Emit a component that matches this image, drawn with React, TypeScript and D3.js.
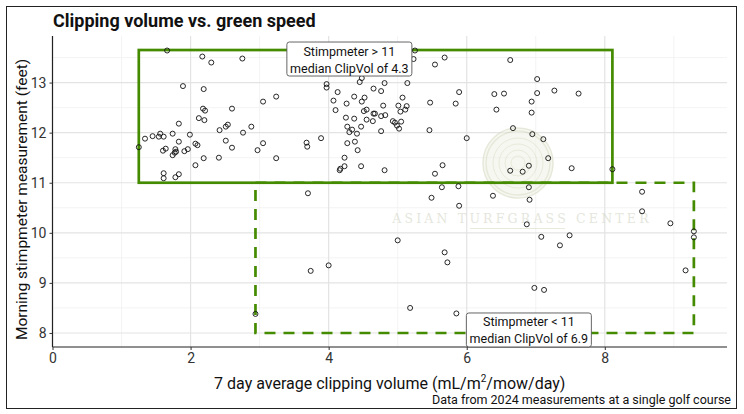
import { useEffect, useRef } from 'react'
import * as d3 from 'd3'

// Stimpmeter > 11 group (x = clipping volume, y = stimpmeter feet)
const upperX = [1.25, 1.34, 1.45, 1.54, 1.56, 1.61, 1.66, 1.60, 1.64, 1.74, 1.74, 1.77, 1.78, 1.79, 1.61, 1.61, 1.78, 1.83, 1.83, 1.83,
  1.89, 1.91, 1.96, 1.99, 2.07, 2.12, 2.07, 2.10, 2.17, 2.19, 2.18, 2.21, 2.20, 2.19, 2.30, 2.42, 2.41, 2.51, 2.54, 2.51,
  2.60, 2.60, 2.75, 2.76, 2.88, 2.97, 3.05, 3.05, 3.24, 3.24, 3.68, 3.69, 3.89, 3.97, 3.97, 5.25, 5.23, 5.68, 5.54, 4.13,
  4.07, 4.26, 4.37, 4.48, 4.52, 4.45, 4.48, 4.65, 4.76, 4.81, 4.10, 4.25, 4.37, 4.51, 4.55, 4.55, 4.65, 4.67, 4.64, 4.76,
  4.82, 4.79, 5.01, 5.07, 5.14, 5.04, 5.11, 5.13, 4.93, 4.96, 4.99, 5.02, 5.05, 4.27, 4.34, 4.30, 4.41, 4.47, 4.76, 4.27,
  4.38, 4.42, 4.23, 4.23, 4.17, 4.47, 4.81, 4.16, 5.47, 5.84, 5.89, 5.46, 6.00, 5.65, 5.54, 6.40, 6.43, 6.94, 6.67, 6.95,
  7.11, 7.18, 6.90, 6.63, 6.81, 7.52, 8.11, 6.63, 7.02, 6.54, 7.02, 7.27, 7.62, 6.94]
const upperY = [11.71, 11.88, 11.93, 11.92, 11.98, 11.92, 13.64, 11.64, 11.68, 11.98, 11.55, 11.60, 11.67, 11.62, 11.19, 11.09, 11.11, 11.17, 12.18, 11.82,
  12.93, 11.63, 11.67, 11.96, 11.35, 12.29, 11.78, 11.75, 13.52, 12.87, 12.48, 12.44, 12.25, 11.49, 13.40, 12.05, 11.50, 12.12, 12.16, 11.84,
  12.48, 11.70, 13.48, 12.00, 12.12, 11.65, 12.62, 11.79, 12.72, 11.49, 11.80, 11.72, 11.89, 12.97, 12.90, 13.64, 13.47, 13.50, 13.36, 12.81,
  12.64, 12.58, 12.72, 12.62, 12.70, 13.01, 13.09, 12.88, 12.83, 12.99, 12.45, 12.30, 12.28, 12.43, 12.46, 12.26, 12.38, 12.38, 12.23, 12.33,
  12.35, 12.54, 12.54, 12.70, 12.99, 12.42, 12.46, 12.53, 12.23, 12.20, 12.14, 12.08, 12.22, 12.12, 12.06, 12.01, 11.98, 12.12, 12.03, 11.79,
  11.82, 11.65, 11.50, 11.33, 11.28, 11.33, 11.25, 11.25, 12.60, 12.58, 12.81, 12.05, 11.89, 11.35, 11.18, 12.77, 12.46, 12.40, 12.09, 11.97,
  11.87, 11.49, 11.34, 11.24, 11.22, 11.29, 11.27, 13.45, 13.07, 12.78, 12.79, 12.84, 12.78, 12.62]

// Stimpmeter < 11 group
const lowerX = [3.70, 5.64, 5.88, 5.49, 6.90, 5.89, 6.38, 6.91, 8.54, 8.54, 6.87, 7.08, 7.49, 8.95, 9.29, 9.29, 9.17, 5.00, 7.35, 5.68,
  5.72, 6.98, 7.12, 5.18, 5.85, 3.74, 4.00, 2.94]
const lowerY = [10.79, 10.91, 10.93, 10.70, 10.91, 10.54, 10.74, 10.66, 10.82, 10.43, 10.17, 9.92, 9.95, 10.19, 10.03, 9.91, 9.25, 9.85, 9.75, 9.61,
  9.41, 8.90, 8.86, 8.50, 8.39, 9.24, 9.35, 8.38]

// group boxes: [xmin, xmax, ymin, ymax]
const upperBox = [1.25, 8.11, 11, 13.65]
const lowerBox = [2.94, 9.29, 8.0, 11]
const medians = [4.3, 6.9]
const labelLines = [['Stimpmeter > 11', 'median ClipVol of 4.3'], ['Stimpmeter < 11', 'median ClipVol of 6.9']]

const xTicks = [0, 2, 4, 6, 8]
const xMinor = [1, 3, 5, 7, 9]
const yTicks = [8, 9, 10, 11, 12, 13]
const yMinor = [8.5, 9.5, 10.5, 11.5, 12.5, 13.5]

const green = '#458B00'
const font = 'Roboto, "Noto Sans", sans-serif'

export default function App() {
  const ref = useRef<SVGSVGElement>(null)

  const drawChart = () => {
    const svg = d3.select(ref.current)
    svg.selectAll('*').remove()

    const left = 52.5, right = 727, top = 36, bottom = 347

    const xScale = d3.scaleLinear().domain([0, 9.77]).range([left, right])
    const yScale = d3.scaleLinear().domain([7.72, 13.93]).range([bottom, top])

    svg.append('rect').attr('width', 744).attr('height', 414).attr('fill', 'white')
    svg.append('rect')
      .attr('x', 6.5).attr('y', 6.5).attr('width', 730).attr('height', 402)
      .attr('fill', 'none').attr('stroke', '#222').attr('stroke-width', 1)

    // grid
    const grid = svg.append('g')
    grid.selectAll('.gx-minor').data(xMinor).join('line')
      .attr('x1', d => xScale(d)).attr('x2', d => xScale(d)).attr('y1', top).attr('y2', bottom)
      .attr('stroke', '#f0f0f0').attr('stroke-width', 0.8)
    grid.selectAll('.gy-minor').data(yMinor).join('line')
      .attr('y1', d => yScale(d)).attr('y2', d => yScale(d)).attr('x1', left).attr('x2', right)
      .attr('stroke', '#f0f0f0').attr('stroke-width', 0.8)
    grid.selectAll('.gx').data(xTicks).join('line')
      .attr('x1', d => xScale(d)).attr('x2', d => xScale(d)).attr('y1', top).attr('y2', bottom)
      .attr('stroke', '#e3e3e3').attr('stroke-width', 1.2)
    grid.selectAll('.gy').data(yTicks).join('line')
      .attr('y1', d => yScale(d)).attr('y2', d => yScale(d)).attr('x1', left).attr('x2', right)
      .attr('stroke', '#e3e3e3').attr('stroke-width', 1.2)

    // watermark
    const wm = svg.append('g').attr('opacity', 0.55)
    const cx = 518, cy = 163
    ;[35, 32, 25, 19, 13, 7].forEach((r, i) => {
      wm.append('circle').attr('cx', cx).attr('cy', cy).attr('r', r)
        .attr('fill', i === 0 ? '#f1f2e6' : 'none')
        .attr('stroke', '#d3d8bd').attr('stroke-width', i < 2 ? 1.5 : 1)
    })
    wm.append('text')
      .attr('x', 522).attr('y', 223)
      .attr('text-anchor', 'middle')
      .attr('font-family', '"DejaVu Serif", "Liberation Serif", serif')
      .attr('font-size', 12.5).attr('letter-spacing', 3.2)
      .attr('fill', '#cfd3c2')
      .text('ASIAN TURFGRASS CENTER')
    wm.append('line')
      .attr('x1', 470).attr('x2', 565).attr('y1', 228.5).attr('y2', 228.5)
      .attr('stroke', '#d6dcc0').attr('stroke-width', 1.2)

    // group rectangles
    svg.append('rect')
      .attr('x', xScale(lowerBox[0])).attr('y', yScale(lowerBox[3]))
      .attr('width', xScale(lowerBox[1]) - xScale(lowerBox[0]))
      .attr('height', yScale(lowerBox[2]) - yScale(lowerBox[3]))
      .attr('fill', 'none').attr('stroke', green).attr('stroke-width', 2.7)
      .attr('stroke-dasharray', '11,8')
    svg.append('rect')
      .attr('x', xScale(upperBox[0])).attr('y', yScale(upperBox[3]))
      .attr('width', xScale(upperBox[1]) - xScale(upperBox[0]))
      .attr('height', yScale(upperBox[2]) - yScale(upperBox[3]))
      .attr('fill', 'none').attr('stroke', green).attr('stroke-width', 2.7)

    // points
    const pts = upperX.map((x, i) => [x, upperY[i]]).concat(lowerX.map((x, i) => [x, lowerY[i]]))
    svg.append('g').selectAll('circle').data(pts).join('circle')
      .attr('cx', d => xScale(d[0])).attr('cy', d => yScale(d[1]))
      .attr('r', 2.5).attr('fill', 'none').attr('stroke', '#111').attr('stroke-width', 0.9)

    // axes
    const xAxis = d3.axisBottom(xScale).tickValues(xTicks).tickSize(3).tickPadding(3).tickFormat(d3.format('d'))
    const gx = svg.append('g').attr('transform', `translate(0, ${bottom})`).call(xAxis)
    gx.select('.domain').attr('stroke', '#222').attr('stroke-width', 1.2).attr('d', `M${left},0H${right}`)
    gx.selectAll('.tick line').attr('stroke', '#333')
    gx.selectAll('text').attr('font-family', font).attr('font-size', 14).attr('fill', '#333')

    const yAxis = d3.axisLeft(yScale).tickValues(yTicks).tickSize(3).tickPadding(3).tickFormat(d3.format('d'))
    const gy = svg.append('g').attr('transform', `translate(${left}, 0)`).call(yAxis)
    gy.select('.domain').attr('stroke', '#222').attr('stroke-width', 1.2).attr('d', `M0,${top}V${bottom}`)
    gy.selectAll('.tick line').attr('stroke', '#333')
    gy.selectAll('text').attr('font-family', font).attr('font-size', 14).attr('fill', '#333')

    // labels
    const labelY = [yScale(upperBox[3]) - 8, yScale(lowerBox[2]) - 20]
    medians.forEach((m, i) => {
      const g = svg.append('g')
      const bw = 125, bh = 34
      const bx = xScale(m) - bw / 2
      g.append('rect')
        .attr('x', bx).attr('y', labelY[i]).attr('width', bw).attr('height', bh)
        .attr('rx', 2.5).attr('fill', 'white').attr('stroke', '#555').attr('stroke-width', 0.9)
      labelLines[i].forEach((t, j) => {
        g.append('text')
          .attr('x', xScale(m)).attr('y', labelY[i] + 13.5 + j * 17)
          .attr('text-anchor', 'middle')
          .attr('font-family', font).attr('font-size', 12.5).attr('fill', '#111')
          .text(t)
      })
    })

    // titles
    svg.append('text')
      .attr('x', 53).attr('y', 27)
      .attr('font-family', font).attr('font-size', 18).attr('font-weight', 'bold').attr('fill', '#111')
      .text('Clipping volume vs. green speed')

    const xt = svg.append('text')
      .attr('x', (left + right) / 2).attr('y', 389)
      .attr('text-anchor', 'middle')
      .attr('font-family', font).attr('font-size', 16).attr('fill', '#111')
    xt.append('tspan').text('7 day average clipping volume (mL/m')
    xt.append('tspan').attr('font-size', 10).attr('dy', -7).text('2')
    xt.append('tspan').attr('dy', 7).text('/mow/day)')

    svg.append('text')
      .attr('transform', `translate(27, ${(top + bottom) / 2 + 8}) rotate(-90)`)
      .attr('text-anchor', 'middle')
      .attr('font-family', font).attr('font-size', 15.5).attr('fill', '#111')
      .text('Morning stimpmeter measurement (feet)')

    svg.append('text')
      .attr('x', 731).attr('y', 404)
      .attr('text-anchor', 'end')
      .attr('font-family', font).attr('font-size', 12.5).attr('fill', '#111')
      .text('Data from 2024 measurements at a single golf course')
  }

  useEffect(() => {
    drawChart()
  }, [])

  return (
    <svg ref={ref} width={744} height={414} style={{ position: 'absolute', left: 0, top: 0, display: 'block' }}></svg>
  )
}
